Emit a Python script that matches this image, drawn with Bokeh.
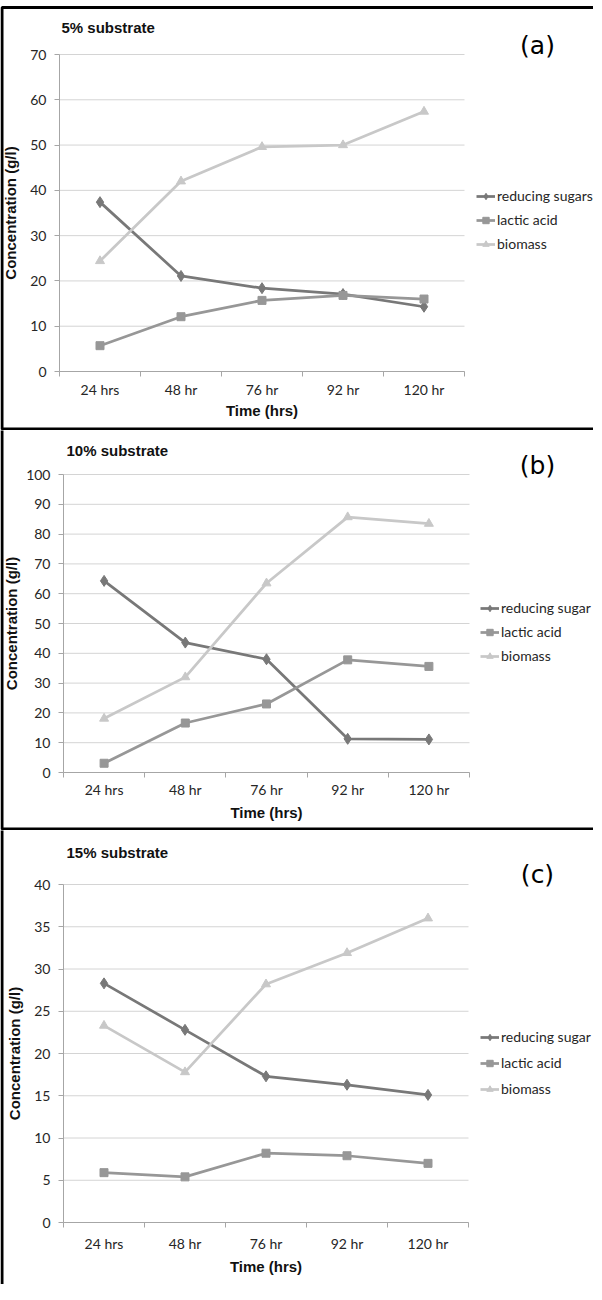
from bokeh.plotting import figure
from bokeh.models import Range1d, FixedTicker, Legend, LegendItem, Label, BoxAnnotation
from bokeh.layouts import column
from bokeh.embed import file_html
from bokeh.resources import INLINE

# ---------------- data ----------------
categories = ["24 hrs", "48 hr", "76 hr", "92 hr", "120 hr"]

panel_titles = ["5% substrate", "10% substrate", "15% substrate"]
panel_tags = ["(a)", "(b)", "(c)"]
sugar_labels = ["reducing sugars", "reducing sugar", "reducing sugar"]
acid_label = "lactic acid"
biomass_label = "biomass"
y_max = [70, 100, 40]
y_step = [10, 10, 5]

reducing_a = [37.4, 21.1, 18.4, 17.1, 14.3]
lactic_a = [5.7, 12.1, 15.7, 16.8, 16.0]
biomass_a = [24.4, 42.0, 49.6, 50.0, 57.4]

reducing_b = [64.3, 43.6, 38.0, 11.3, 11.1]
lactic_b = [3.1, 16.6, 23.0, 37.8, 35.6]
biomass_b = [18.1, 32.0, 63.5, 85.7, 83.5]

reducing_c = [28.3, 22.8, 17.3, 16.3, 15.1]
lactic_c = [5.9, 5.4, 8.2, 7.9, 7.0]
biomass_c = [23.3, 17.8, 28.2, 31.9, 36.0]

series = [
    (reducing_a, lactic_a, biomass_a),
    (reducing_b, lactic_b, biomass_b),
    (reducing_c, lactic_c, biomass_c),
]

# ---------------- styling / layout ----------------
W = 593
C_SUGAR = "#787878"
C_ACID = "#979797"
C_BIO = "#c8c8c8"
AXIS_C = "#a6a6a6"
GRID_C = "#d4d4d4"
TXT_C = "#262626"

# geometry per panel (canvas px): height, plot-area left/width/top/height,
# border box, title pos, tag pos, legend top-left, legend spacing, standoffs
geo = [
    dict(H=430, fl=59, fw=405, ft=54, fh=317, box=(1.5, W + 10, 7, 428.5),
         title_xy=(61, 27), tag_xy=(537, 45), leg_xy=(476, 190), leg_sp=7,
         tick_sd=4, lab_sd=1, ylab_sd=8),
    dict(H=400, fl=63, fw=406, ft=44, fh=298, box=(1.5, W + 10, -10, 398.5),
         title_xy=(66, 20), tag_xy=(537, 35), leg_xy=(480, 172), leg_sp=7,
         tick_sd=3, lab_sd=3, ylab_sd=3),
    dict(H=454, fl=63, fw=405, ft=54, fh=338, box=(1.5, W + 10, -10, 470),
         title_xy=(66, 22), tag_xy=(537, 44), leg_xy=(480, 201), leg_sp=9,
         tick_sd=7, lab_sd=3, ylab_sd=8),
]

n = len(categories)
xs = [i + 0.5 for i in range(n)]

plots = []
for k in range(3):
    g = geo[k]
    sugar, acid, bio = series[k]
    H = g["H"]
    ymax = y_max[k]
    ppx = g["fw"] / n
    ppy = g["fh"] / ymax
    x_range = Range1d(-g["fl"] / ppx, (W - g["fl"]) / ppx)
    y_range = Range1d(-(H - g["ft"] - g["fh"]) / ppy, ymax + g["ft"] / ppy)

    p = figure(width=W, height=H, output_backend="svg", toolbar_location=None,
               x_range=x_range, y_range=y_range,
               min_border=0, min_border_left=0, min_border_right=0,
               min_border_top=0, min_border_bottom=0)
    p.outline_line_color = None
    p.background_fill_color = "white"
    p.border_fill_color = "white"
    p.xgrid.visible = False
    p.ygrid.visible = False

    # horizontal gridlines at the y ticks, across the category span
    yticks = list(range(0, ymax + 1, y_step[k]))
    p.segment(x0=[0] * len(yticks), x1=[n] * len(yticks), y0=yticks, y1=yticks,
              line_color=GRID_C, line_width=1, level="underlay")

    # x axis: labels at category centres, ticks at category boundaries
    xa = p.xaxis[0]
    xa.fixed_location = 0
    xa.bounds = (0, n)
    xa.ticker = FixedTicker(ticks=xs, minor_ticks=list(range(n + 1)))
    xa.major_label_overrides = {x: c for x, c in zip(xs, categories)}
    xa.major_tick_line_color = None
    xa.major_tick_out = 0
    xa.major_tick_in = 0
    xa.minor_tick_out = 5
    xa.minor_tick_in = 0
    xa.minor_tick_line_color = AXIS_C
    xa.axis_line_color = AXIS_C
    xa.major_label_standoff = g["tick_sd"]
    xa.axis_label = "Time (hrs)"
    xa.axis_label_standoff = g["lab_sd"]

    # y axis
    ya = p.yaxis[0]
    ya.fixed_location = 0
    ya.bounds = (0, ymax)
    ya.ticker = FixedTicker(ticks=yticks)
    ya.minor_tick_line_color = None
    ya.major_tick_out = 5
    ya.major_tick_in = 0
    ya.major_tick_line_color = AXIS_C
    ya.axis_line_color = AXIS_C
    ya.major_label_standoff = 8
    ya.axis_label = "Concentration (g/l)"
    ya.axis_label_standoff = g["ylab_sd"]

    for ax in (xa, ya):
        ax.major_label_text_font = "Lato"
        ax.major_label_text_font_size = "14px"
        ax.major_label_text_color = TXT_C
        ax.axis_label_text_font = "Liberation Sans"
        ax.axis_label_text_font_style = "bold"
        ax.axis_label_text_font_size = "15px"
        ax.axis_label_text_color = "#111111"

    # series
    l1 = p.line(xs, sugar, line_color=C_SUGAR, line_width=2.75)
    s1 = p.scatter(xs, sugar, marker="diamond", size=11, color=C_SUGAR)
    l2 = p.line(xs, acid, line_color=C_ACID, line_width=2.75)
    s2 = p.scatter(xs, acid, marker="square", size=8, color=C_ACID)
    l3 = p.line(xs, bio, line_color=C_BIO, line_width=2.75)
    s3 = p.scatter(xs, bio, marker="triangle", size=9, color=C_BIO)

    item_h = 16
    leg_h = 3 * item_h + 2 * g["leg_sp"]
    lx = g["leg_xy"][0]
    ly = H - (g["leg_xy"][1] + leg_h)
    legend = Legend(items=[LegendItem(label=sugar_labels[k], renderers=[l1, s1]),
                           LegendItem(label=acid_label, renderers=[l2, s2]),
                           LegendItem(label=biomass_label, renderers=[l3, s3])],
                    location=(lx, ly))
    legend.glyph_width = 19
    legend.glyph_height = item_h
    legend.label_height = item_h
    legend.label_standoff = 2
    legend.spacing = g["leg_sp"]
    legend.padding = 0
    legend.margin = 0
    legend.border_line_color = None
    legend.background_fill_alpha = 0
    legend.label_text_font = "Lato"
    legend.label_text_font_size = "14px"
    legend.label_text_color = TXT_C
    legend.label_text_baseline = "middle"
    p.add_layout(legend)

    # panel title and tag
    tx, ty = g["title_xy"]
    p.add_layout(Label(x=tx, y=H - ty, x_units="screen", y_units="screen",
                       text=panel_titles[k], text_font="Liberation Sans", text_font_style="bold",
                       text_font_size="15px", text_color="#111111",
                       text_align="left", text_baseline="middle"))
    gx, gy = g["tag_xy"]
    p.add_layout(Label(x=gx, y=H - gy, x_units="screen", y_units="screen",
                       text=panel_tags[k], text_font="DejaVu Sans", text_font_size="25px",
                       text_color="#000000", text_align="center", text_baseline="middle"))

    # panel border
    bl, br, bt, bb = g["box"]
    p.add_layout(BoxAnnotation(left=bl, right=br, top=bt, bottom=bb,
                               left_units="canvas", right_units="canvas",
                               top_units="canvas", bottom_units="canvas",
                               fill_color=None, fill_alpha=0,
                               line_color="black", line_alpha=1.0, line_width=3,
                               level="overlay"))
    plots.append(p)

layout = column(*plots, spacing=0)
open("out.html", "w").write(file_html(layout, INLINE))
